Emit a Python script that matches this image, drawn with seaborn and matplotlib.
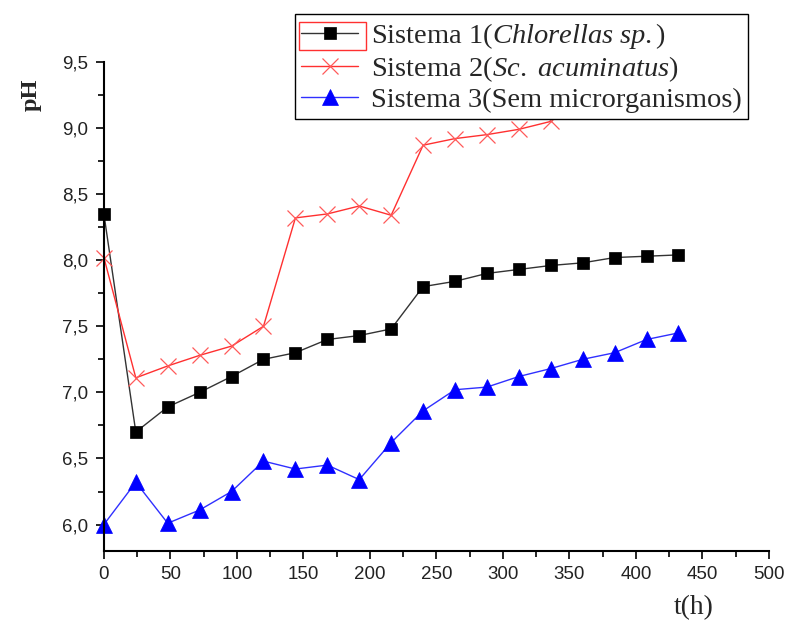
import numpy as np
import pandas as pd
import matplotlib
matplotlib.use("Agg")
import matplotlib.pyplot as plt
from matplotlib.patches import Rectangle
from matplotlib.ticker import MultipleLocator, FuncFormatter
import seaborn as sns

# Sampling times (h)
t_full = [0, 24, 48, 72, 96, 120, 144, 168, 192, 216, 240, 264, 288, 312, 336,
          360, 384, 408, 432]
t_s2 = t_full[:15]

# pH readings
ph_s1 = [8.35, 6.70, 6.89, 7.00, 7.12, 7.25, 7.30, 7.40, 7.43, 7.48, 7.80,
         7.84, 7.90, 7.93, 7.96, 7.98, 8.02, 8.03, 8.04]
ph_s2 = [8.02, 7.11, 7.20, 7.28, 7.35, 7.50, 8.32, 8.35, 8.41, 8.34, 8.87,
         8.92, 8.95, 8.99, 9.05]
ph_s3 = [6.00, 6.32, 6.01, 6.11, 6.25, 6.48, 6.42, 6.45, 6.34, 6.62, 6.86,
         7.02, 7.04, 7.12, 7.18, 7.25, 7.30, 7.40, 7.45]

labels = [r"Sistema 1($\mathit{Chlorellas\ sp.}$)",
          r"Sistema 2($\mathit{Sc.\ acuminatus}$)",
          "Sistema 3(Sem microrganismos)"]

sns.set_style("ticks")
plt.rcParams["font.family"] = ["Liberation Sans", "DejaVu Sans"]
plt.rcParams["mathtext.fontset"] = "custom"
plt.rcParams["mathtext.it"] = "Liberation Serif:italic"
plt.rcParams["mathtext.rm"] = "Liberation Serif"

df = pd.concat([
    pd.DataFrame({"t": t_full, "pH": ph_s1, "serie": labels[0]}),
    pd.DataFrame({"t": t_s2, "pH": ph_s2, "serie": labels[1]}),
    pd.DataFrame({"t": t_full, "pH": ph_s3, "serie": labels[2]}),
])

fig = plt.figure(figsize=(7.87, 6.23), dpi=100)
ax = fig.add_axes([0.132, 0.1156, 0.845, 0.785])

styles = {
    labels[0]: dict(color="#333333", marker="s", ms=8.5, mfc="black", mec="black", mew=0.5),
    labels[1]: dict(color="#ff3030", marker="x", ms=12, mfc="none", mec="#ff5a5a", mew=0.9),
    labels[2]: dict(color="#3030ff", marker="^", ms=11, mfc="#0000ff", mec="#0000ff", mew=0.5),
}

for lab in labels:
    st = styles[lab]
    sub = df[df["serie"] == lab]
    sns.lineplot(data=sub, x="t", y="pH", ax=ax, label=lab, color=st["color"],
                 lw=1.0, marker=st["marker"], markersize=st["ms"],
                 markerfacecolor=st["mfc"], markeredgecolor=st["mec"],
                 markeredgewidth=st["mew"], clip_on=False)

ax.set_xlim(0, 500)
ax.set_ylim(5.8, 9.5)
ax.xaxis.set_major_locator(MultipleLocator(50))
ax.xaxis.set_minor_locator(MultipleLocator(25))
ax.yaxis.set_major_locator(MultipleLocator(0.5))
ax.yaxis.set_minor_locator(MultipleLocator(0.25))
ax.yaxis.set_major_formatter(FuncFormatter(lambda v, p: f"{v:.1f}".replace(".", ",")))
ax.tick_params(which="major", length=6, width=1.2, labelsize=13.5, color="black",
               labelcolor="#222222", pad=5)
ax.tick_params(which="minor", length=4, width=1.2, color="black")
for s in ("top", "right"):
    ax.spines[s].set_visible(False)
for s in ("left", "bottom"):
    ax.spines[s].set_linewidth(1.5)
    ax.spines[s].set_color("black")
ax.set_xlabel("")
ax.set_ylabel("")

fig.text(0.040, 0.848, "pH", rotation=90, ha="center", va="center",
         family="Liberation Serif", fontweight="bold", fontsize=17.5)
fig.text(0.882, 0.024, "t(h)", ha="center", va="center",
         family="Liberation Serif", fontsize=20)

ax.get_legend().remove()
handles, labs = ax.get_legend_handles_labels()
leg = fig.legend(handles, labs, loc="upper left", bbox_to_anchor=(0.375, 0.977),
                 frameon=True, fancybox=False, edgecolor="black", framealpha=1,
                 handlelength=2.0, handletextpad=0.45, borderpad=0.22,
                 labelspacing=0.12, borderaxespad=0,
                 prop={"family": "Liberation Serif", "size": 20.5})
leg.get_frame().set_linewidth(1.0)

# Selection outline around the first legend key
fig.canvas.draw()
renderer = fig.canvas.get_renderer()
inv = fig.transFigure.inverted()
fbox = leg.get_frame().get_window_extent(renderer)
tbox = leg.get_texts()[0].get_window_extent(renderer)
yc = (tbox.y0 + tbox.y1) / 2
x0, y0 = inv.transform((fbox.x0 + 4, yc - 14))
x1, y1 = inv.transform((tbox.x0 - 5, yc + 14))
fig.add_artist(Rectangle((x0, y0), x1 - x0, y1 - y0, transform=fig.transFigure,
                         fill=False, edgecolor="#ff3030", lw=1.0, zorder=10))

fig.savefig("out.png", dpi=100)
